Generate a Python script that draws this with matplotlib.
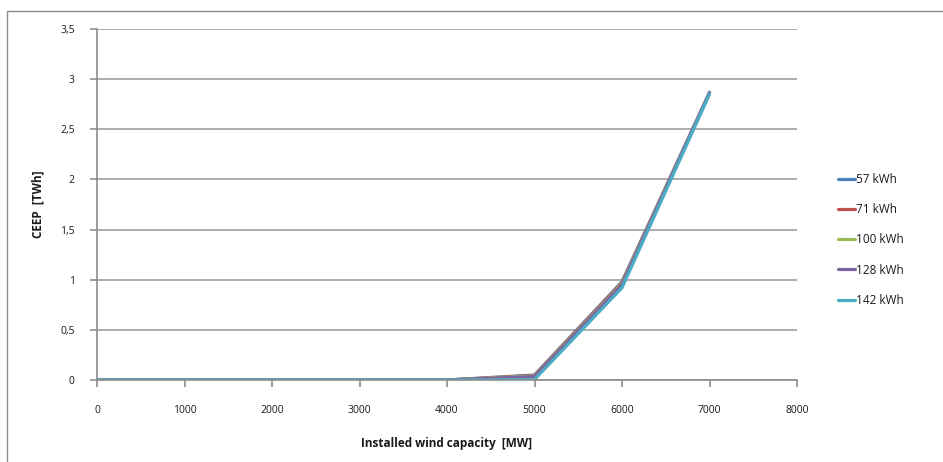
import matplotlib
matplotlib.use("Agg")
import matplotlib.pyplot as plt
from matplotlib.patches import Rectangle
from matplotlib.ticker import FuncFormatter

plt.rcParams['font.family'] = ['Open Sans', 'DejaVu Sans']

capacity = [0, 1000, 2000, 3000, 4000, 5000, 6000, 7000]
series_names = ["57 kWh", "71 kWh", "100 kWh", "128 kWh", "142 kWh"]
s57 = [0, 0, 0, 0, 0, 0.05, 0.98, 2.87]
s71 = [0, 0, 0, 0, 0, 0.045, 0.97, 2.86]
s100 = [0, 0, 0, 0, 0, 0.04, 0.96, 2.86]
s128 = [0, 0, 0, 0, 0, 0.035, 0.95, 2.86]
s142 = [0, 0, 0, 0, 0, 0.005, 0.92, 2.85]
colors = ["#4F81BD", "#C0504D", "#9BBB59", "#8064A2", "#4BACC6"]

fig = plt.figure(figsize=(9.43, 4.62), dpi=100)
fig.patches.append(Rectangle((7/943, -0.1), 1.2, 1 - 11/462 + 0.1,
                             transform=fig.transFigure, fill=False,
                             edgecolor="#8c8c8c", linewidth=1.0))
ax = fig.add_axes([97/943, 1 - 380/462, 700/943, 351/462])

for name, vals, c in zip(series_names, [s57, s71, s100, s128, s142], colors):
    ax.plot(capacity, vals, color=c, linewidth=2.3, label=name,
            solid_joinstyle="round", solid_capstyle="round")

ax.set_xlim(0, 8000)
ax.set_ylim(0, 3.5)
ax.set_xticks(range(0, 8001, 1000))
ax.set_yticks([0, 0.5, 1, 1.5, 2, 2.5, 3, 3.5])
ax.yaxis.set_major_formatter(FuncFormatter(lambda v, p: ("%g" % v).replace(".", ",")))
ax.grid(axis="y", color="#a6a6a6", linewidth=1.3)
ax.set_axisbelow(True)
for s in ["top", "right"]:
    ax.spines[s].set_visible(False)
ax.spines["left"].set_color("#8c8c8c")
ax.spines["bottom"].set_color("#8c8c8c")
ax.spines["left"].set_linewidth(1.2)
ax.spines["bottom"].set_linewidth(1.2)
ax.tick_params(axis="both", colors="#8c8c8c", labelcolor="#1a1a1a",
               labelsize=7.5, length=5, width=1.2)
ax.tick_params(axis="x", pad=13)
ax.tick_params(axis="y", pad=11)
ax.set_xlabel("Installed wind capacity  [MW]", fontsize=8.5, fontweight="bold",
              color="#1a1a1a", labelpad=15)
ax.set_ylabel("CEEP  [TWh]", fontsize=8.5, fontweight="bold", color="#1a1a1a",
              labelpad=11)

leg = ax.legend(loc="center left", bbox_to_anchor=(1.058, 0.399), frameon=False,
                fontsize=8.5, handlelength=1.45, handletextpad=0.15,
                labelspacing=1.45, borderaxespad=0, borderpad=0)
for t in leg.get_texts():
    t.set_color("#1a1a1a")

fig.savefig("out.png", dpi=100)
